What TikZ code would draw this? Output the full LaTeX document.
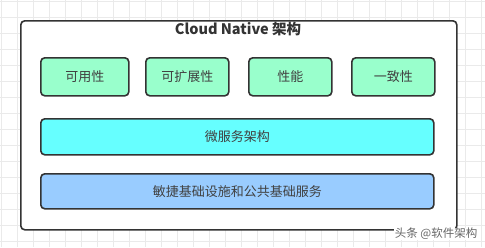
\documentclass[tikz,border=0pt]{standalone}
\usepackage{fontspec}
\setmainfont{Noto Sans CJK SC}
\newfontfamily\cjk{Noto Sans CJK SC}
\begin{document}
\begin{tikzpicture}[x=1pt,y=-1pt,
  box/.style={draw=black!80,line width=1.6pt,rounded corners=4pt,inner sep=0pt,anchor=north west,text=black!75,font=\fontsize{13}{15}\selectfont},
  attr/.style={box,fill=mint},
  micro/.style={box,fill=cyanx},
  infra/.style={box,fill=bluex}]
\definecolor{mint}{HTML}{99FFCC}
\definecolor{cyanx}{HTML}{66FFFF}
\definecolor{bluex}{HTML}{99CCFF}
\definecolor{gridc}{HTML}{EAEAEA}
\useasboundingbox (0,0) rectangle (485,247);
\fill[white] (0,0) rectangle (485,247);
\foreach \i in {0,...,30} {\draw[gridc,line width=0.5pt] (1+16*\i,0) -- (1+16*\i,247);}
\foreach \j in {0,...,15} {\draw[gridc,line width=0.5pt] (0,1+16*\j) -- (485,1+16*\j);}
\node[draw=black!80,fill=white,line width=1.6pt,rounded corners=4pt,minimum width=436pt,minimum height=209pt,anchor=north west] (outer) at (20,20) {};
\node[font=\bfseries\fontsize{14.5}{16}\selectfont,text=black!80] (title) at (238,29) {Cloud Native 架构};
\node[attr,minimum width=88pt,minimum height=38pt] (a1) at (40,57) {可用性};
\node[attr,minimum width=83pt,minimum height=38pt] (a2) at (145,57) {可扩展性};
\node[attr,minimum width=83pt,minimum height=38pt] (a3) at (248,57) {性能};
\node[attr,minimum width=83pt,minimum height=38pt] (a4) at (351,57) {一致性};
\node[micro,minimum width=393pt,minimum height=36pt] (ms) at (40,118) {微服务架构};
\node[infra,minimum width=393pt,minimum height=35pt] (inf) at (40,173) {敏捷基础设施和公共基础服务};
\node[font=\fontsize{11.5}{13}\selectfont,text=black!60,fill=white,inner sep=0.5pt,anchor=east] (wm) at (478,234) {头条 @软件架构};
\end{tikzpicture}
\end{document}
